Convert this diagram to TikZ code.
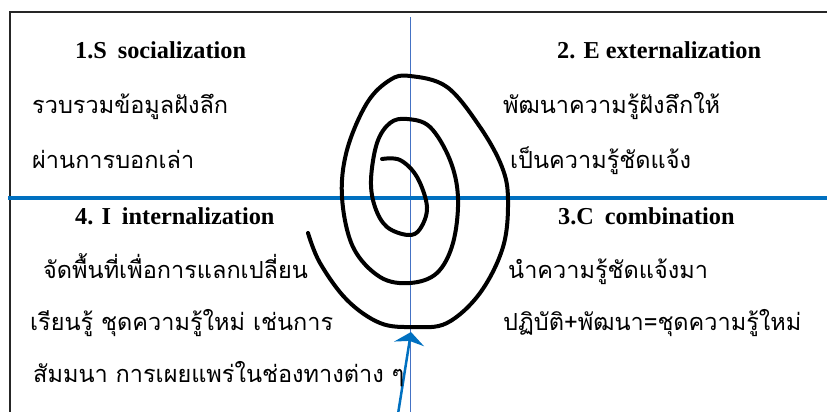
\documentclass[tikz,border=0pt]{standalone}
\usepackage{fontspec}
\setmainfont{Liberation Serif}
\newfontfamily\thaifont[Script=Thai]{Loma}
\usetikzlibrary{arrows.meta}
\definecolor{mainblue}{RGB}{0,112,192}
\definecolor{thinblue}{RGB}{68,114,196}
\begin{document}
\begin{tikzpicture}[x=1pt,y=-1pt,
  head/.style={font=\fontsize{24.3}{28}\selectfont\bfseries, anchor=base west, inner sep=0pt},
  thai/.style={font=\thaifont\fontsize{23.5}{28}\selectfont, anchor=base west, inner sep=0pt}]
\useasboundingbox (0,0) rectangle (827,412);
% frame lines
\draw[line width=1.5pt, black!85] (10,412) -- (10,12) -- (827,12);
\draw[thinblue, line width=0.8pt] (410,17) -- (410,412);
\draw[mainblue, line width=3.5pt] (8,198) -- (827,198);
% spiral
\draw[line width=4pt, line cap=round, line join=round] plot[smooth, tension=0.6] coordinates {
 (382,159) (400,160) (417,177) (427,207) (420,229) (408,235) (387,227) (375,207) (371,180) (377,143) (390,123) (407,119)
 (430,127) (450,160) (458,198) (453,243) (437,273) (410,283) (380,277) (353,247) (342,197) (347,150) (367,103) (390,80) (410,76)
 (447,87) (480,127) (502,167) (508,200) (503,247) (480,293) (447,323) (413,327) (380,323) (347,300) (320,263) (308,233)};
% arrow
\coordinate (arrowtail) at (398,414);
\coordinate (arrowtip) at (411,332);
\draw[mainblue, line width=2.5pt, -{Stealth[length=12pt,width=30pt,inset=3pt]}] (arrowtail) -- (arrowtip);
% texts
\node[head] (s) at (75,59) {1.S\hspace{0.45em}socialization};
\node[thai] (s1) at (32,113) {รวบรวมข้อมูลฝังลึก};
\node[thai] (s2) at (32,168) {ผ่านการบอกเล่า};
\node[head] (e) at (557,59) {2. E externalization};
\node[thai] (e1) at (503,113) {พัฒนาความรู้ฝังลึกให้};
\node[thai] (e2) at (510,168) {เป็นความรู้ชัดแจ้ง};
\node[head] (i) at (75,224) {4. I\hspace{0.45em}internalization};
\node[thai] (i1) at (43,278) {จัดพื้นที่เพื่อการแลกเปลี่ยน};
\node[thai] (i2) at (30,330) {เรียนรู้ ชุดความรู้ใหม่ เช่นการ};
\node[thai] (i3) at (33,382) {สัมมนา การเผยแพร่ในช่องทางต่าง ๆ};
\node[head] (c) at (558,224) {3.C\hspace{0.45em}combination};
\node[thai] (c1) at (508,278) {นำความรู้ชัดแจ้งมา};
\node[thai] (c2) at (503,330) {ปฏิบัติ+พัฒนา=ชุดความรู้ใหม่};
\end{tikzpicture}
\end{document}
